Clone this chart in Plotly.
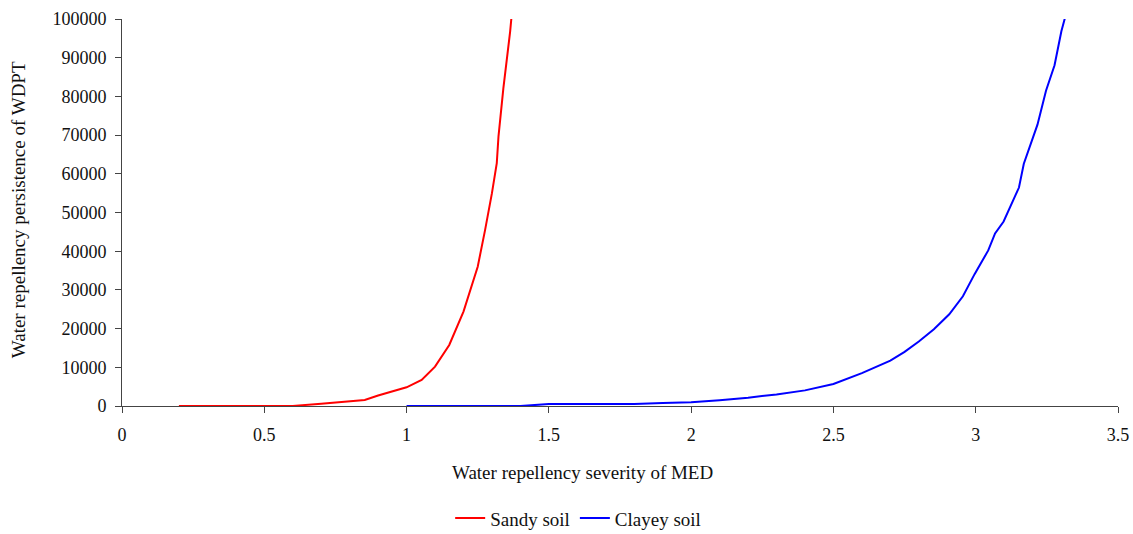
import plotly.graph_objects as go

# Sandy soil
sandy_x = [0.2, 0.3, 0.4, 0.5, 0.6, 0.7, 0.8, 0.853, 0.9, 0.95, 1.0, 1.053, 1.1, 1.15,
           1.2, 1.25, 1.264, 1.276, 1.3, 1.317, 1.323, 1.34, 1.364, 1.37]
sandy_y = [0, 0, 0, 0, 0, 600, 1100, 1550, 2700, 3700, 4830, 6720, 10170, 15780,
           24400, 36000, 40780, 45500, 55000, 62760, 69660, 82000, 96810, 101550]

# Clayey soil
clay_x = [1.0, 1.1, 1.2, 1.3, 1.4, 1.5, 1.6, 1.7, 1.8, 1.9, 2.0, 2.1, 2.2, 2.3, 2.4,
          2.5, 2.6, 2.7, 2.75, 2.8, 2.853, 2.907, 2.955, 2.996, 3.044, 3.068, 3.098,
          3.152, 3.169, 3.217, 3.247, 3.277, 3.301, 3.325]
clay_y = [0, 0, 0, 0, 0, 500, 500, 500, 530, 750, 970, 1500, 2150, 3000, 4040,
          5700, 8500, 11700, 14000, 16680, 19840, 23700, 28360, 34070, 40210, 44600, 47670,
          56450, 62600, 72700, 81480, 88060, 96840, 103400]

x_ticks = [0, 0.5, 1, 1.5, 2, 2.5, 3, 3.5]
y_ticks = list(range(0, 100001, 10000))

FONT = "Liberation Serif, Times New Roman, Times, serif"

fig = go.Figure()
fig.add_trace(go.Scatter(x=sandy_x, y=sandy_y, mode="lines", name="Sandy soil",
                         line=dict(color="#ff0000", width=2)))
fig.add_trace(go.Scatter(x=clay_x, y=clay_y, mode="lines", name="Clayey soil",
                         line=dict(color="#0000ff", width=2)))

fig.update_layout(
    width=1133, height=534,
    margin=dict(l=122, r=15, t=19, b=128, autoexpand=False),
    paper_bgcolor="white", plot_bgcolor="white",
    font=dict(family=FONT, size=18, color="#111111"),
    showlegend=True,
    legend=dict(orientation="h", x=0.458, xanchor="center", y=-0.29, yanchor="middle",
                font=dict(family=FONT, size=19), itemwidth=30),
    xaxis=dict(range=[0, 3.5], tickvals=x_ticks, ticktext=[str(v) for v in x_ticks],
               showgrid=False, zeroline=False, showline=True, linecolor="#444444",
               linewidth=1, ticks="outside", ticklen=6, tickcolor="#444444",
               ticklabelstandoff=6, automargin=False),
    yaxis=dict(range=[0, 100000], tickvals=y_ticks, ticktext=[str(v) for v in y_ticks],
               showgrid=False, zeroline=False, showline=True, linecolor="#444444",
               linewidth=1, ticks="outside", ticklen=6, tickcolor="#444444",
               ticklabelstandoff=5, automargin=False),
    annotations=[
        dict(text="Water repellency severity of MED", xref="paper", yref="paper",
             x=0.462, y=-0.173, xanchor="center", yanchor="middle",
             showarrow=False, font=dict(family=FONT, size=19)),
        dict(text="Water repellency persistence of WDPT", xref="paper", yref="paper",
             x=-0.1044, y=0.506, xanchor="center", yanchor="middle", textangle=-90,
             showarrow=False, font=dict(family=FONT, size=19)),
    ],
)

fig.write_html("out.html")
